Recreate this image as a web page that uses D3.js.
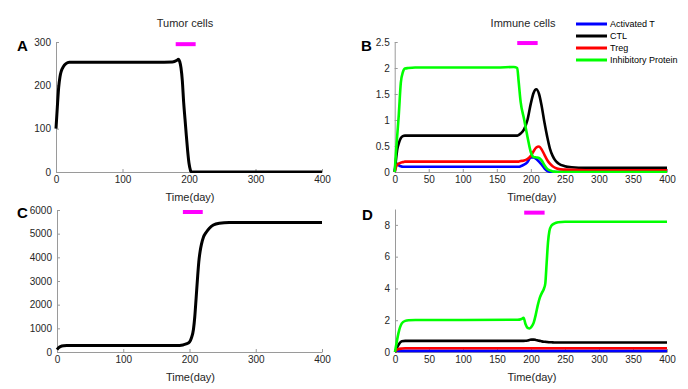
<!DOCTYPE html>
<html><head><meta charset="utf-8">
<script src="https://cdn.jsdelivr.net/npm/d3@7"></script>
<style>
html,body{margin:0;padding:0;background:#fff;}
svg{display:block;font-family:"Liberation Sans",Arial,sans-serif;}
</style></head>
<body><svg id="chart" width="688" height="389"></svg>
<script>
// ---------- DATA ----------
const seriesNames = ["Activated T", "CTL", "Treg", "Inhibitory Protein"];
const seriesColors = ["#0000ff", "#000000", "#ff0000", "#00ff00"];

// Panel A: tumor cells (dosing case 1)
const tA = [0, 2, 4, 6, 8, 11, 15, 20, 30, 60, 100, 150, 175, 182, 184, 186, 188, 190, 192, 194, 196, 198, 200, 202, 204, 250, 300, 400];
const tumorA = [100, 150, 195, 220, 233, 243, 250, 253, 253, 253, 253, 253, 254, 258, 260, 255, 240, 210, 160, 122, 84, 48, 20, 5, 0, 0, 0, 0];

// Panel B: immune cells (case 1)
const tB = [0, 2, 4, 6, 9, 12, 15, 20, 30, 60, 100, 150, 175, 180, 182, 185, 190, 195, 200, 204, 208, 212, 216, 220, 224, 228, 232, 236, 240, 250, 260, 280, 300, 350, 400];
const actTB = [0, 0.15, 0.16, 0.13, 0.11, 0.1, 0.1, 0.1, 0.1, 0.1, 0.1, 0.1, 0.1, 0.1, 0.1, 0.11, 0.14, 0.19, 0.28, 0.28, 0.25, 0.2, 0.14, 0.07, 0.02, 0.005, 0, 0, 0, 0, 0, 0, 0, 0, 0];
const ctlB = [0, 0.25, 0.45, 0.55, 0.65, 0.69, 0.7, 0.7, 0.7, 0.7, 0.7, 0.7, 0.7, 0.7, 0.71, 0.74, 0.82, 1.0, 1.32, 1.52, 1.59, 1.5, 1.26, 0.95, 0.68, 0.45, 0.31, 0.22, 0.17, 0.11, 0.09, 0.08, 0.08, 0.08, 0.08];
const tregB = [0, 0.1, 0.14, 0.16, 0.18, 0.19, 0.2, 0.2, 0.2, 0.2, 0.2, 0.2, 0.2, 0.2, 0.2, 0.21, 0.22, 0.25, 0.31, 0.4, 0.47, 0.49, 0.43, 0.33, 0.23, 0.16, 0.11, 0.08, 0.06, 0.045, 0.04, 0.035, 0.035, 0.035, 0.035];
const inhibB = [0, 0.4, 0.75, 1.1, 1.72, 1.92, 1.99, 2.0, 2.01, 2.01, 2.01, 2.01, 2.02, 2.0, 1.75, 1.35, 1.02, 0.68, 0.38, 0.29, 0.28, 0.27, 0.22, 0.13, 0.06, 0.03, 0.01, 0.005, 0, 0, 0, 0, 0, 0, 0];

// Panel C: tumor cells (case 2)
const tC = [0, 2, 5, 10, 15, 30, 100, 180, 190, 195, 200, 203, 206, 208, 210, 212, 214, 216, 218, 221, 225, 230, 236, 245, 260, 300, 400];
const tumorC = [100, 170, 230, 265, 270, 270, 270, 275, 300, 340, 420, 600, 960, 1500, 2280, 3080, 3800, 4250, 4550, 4850, 5050, 5230, 5366, 5440, 5470, 5475, 5475];

// Panel D: immune cells (case 2)
const tD = [0, 2, 5, 10, 15, 20, 30, 100, 180, 186, 189, 192, 195, 198, 201, 204, 207, 210, 213, 216, 219, 221, 223, 225, 227, 230, 234, 240, 250, 300, 400];
const actTD = [0, 0.08, 0.07, 0.07, 0.07, 0.07, 0.07, 0.07, 0.07, 0.07, 0.07, 0.07, 0.07, 0.07, 0.07, 0.07, 0.07, 0.07, 0.07, 0.07, 0.07, 0.07, 0.07, 0.07, 0.07, 0.07, 0.07, 0.07, 0.07, 0.07, 0.07];
const ctlD = [0, 0.2, 0.44, 0.68, 0.7, 0.7, 0.7, 0.7, 0.7, 0.7, 0.7, 0.71, 0.73, 0.76, 0.78, 0.78, 0.76, 0.73, 0.7, 0.67, 0.65, 0.64, 0.63, 0.62, 0.61, 0.61, 0.6, 0.6, 0.6, 0.6, 0.6];
const tregD = [0, 0.12, 0.18, 0.22, 0.24, 0.24, 0.24, 0.24, 0.24, 0.24, 0.24, 0.24, 0.24, 0.24, 0.24, 0.24, 0.24, 0.24, 0.24, 0.24, 0.24, 0.24, 0.24, 0.24, 0.24, 0.24, 0.24, 0.24, 0.24, 0.24, 0.24];
const inhibD = [0, 0.5, 1.17, 1.8, 1.96, 2.0, 2.01, 2.01, 2.03, 2.08, 2.15, 1.75, 1.52, 1.48, 1.6, 1.85, 2.35, 2.95, 3.42, 3.72, 3.98, 4.3, 5.6, 6.9, 7.6, 7.95, 8.08, 8.17, 8.2, 8.2, 8.2];

// Treatment window bars [start, end, level]
const doseA = [180, 210, 295];
const doseB = [180, 210, 2.48];
const doseC = [190, 220, 5915];
const doseD = [190, 220, 8.77];

const ticksA = [0, 100, 200, 300];
const ticksB = [0, 0.5, 1, 1.5, 2, 2.5];
const ticksC = [0, 1000, 2000, 3000, 4000, 5000, 6000];
const ticksD = [0, 2, 4, 6, 8];
const xTicksWide = [0, 100, 200, 300, 400];
const xTicksFine = [0, 50, 100, 150, 200, 250, 300, 350, 400];

// ---------- DRAW ----------
const svg = d3.select("#chart");
const AXIS_COL = "#9a9a9a", LABEL_COL = "#262626";

function panel(cfg) {
  const x = d3.scaleLinear().domain([0, 400]).range([cfg.x0, cfg.x1]);
  const y = d3.scaleLinear().domain(cfg.yDomain).range([cfg.y1, cfg.y0]);
  const g = svg.append("g");
  const id = "clip" + cfg.label;
  svg.append("defs").append("clipPath").attr("id", id).append("rect")
    .attr("x", cfg.x0 - 2).attr("y", cfg.y0 - 3).attr("width", cfg.x1 - cfg.x0 + 4).attr("height", cfg.y1 - cfg.y0 + 4);

  const xa = g.append("g").attr("transform", `translate(0,${cfg.y1})`)
    .call(d3.axisBottom(x).tickValues(cfg.xTicks).tickSizeInner(-3).tickSizeOuter(0).tickPadding(4).tickFormat(d => String(d)));
  const ya = g.append("g").attr("transform", `translate(${cfg.x0},0)`)
    .call(d3.axisLeft(y).tickValues(cfg.yTicks).tickSizeInner(-3).tickSizeOuter(0).tickPadding(5).tickFormat(d => String(d)));
  [xa, ya].forEach(a => {
    a.select(".domain").attr("stroke", AXIS_COL);
    a.selectAll(".tick line").attr("stroke", AXIS_COL);
    a.selectAll(".tick text").attr("fill", LABEL_COL).style("font-size", "10px").style("font-family", '"Liberation Sans",Arial,sans-serif');
  });

  const line = d3.line().x(d => x(d[0])).y(d => y(d[1])).curve(d3.curveMonotoneX);
  const lg = g.append("g").attr("clip-path", `url(#${id})`);
  cfg.series.forEach(s => {
    lg.append("path").datum(cfg.t.map((t, i) => [t, s.v[i]]))
      .attr("d", line).attr("fill", "none").attr("stroke", s.color)
      .attr("stroke-width", cfg.sw).attr("stroke-linejoin", "round").attr("stroke-linecap", "butt");
  });

  // dose bar
  g.append("line").attr("x1", x(cfg.dose[0])).attr("x2", x(cfg.dose[1]))
    .attr("y1", y(cfg.dose[2])).attr("y2", y(cfg.dose[2]))
    .attr("stroke", "#ff00ff").attr("stroke-width", 4);

  // axis label
  g.append("text").attr("x", (cfg.x0 + cfg.x1) / 2 + 1).attr("y", cfg.y1 + 29)
    .attr("text-anchor", "middle").attr("fill", LABEL_COL).style("font-size", "11px").text("Time(day)");
  // panel letter
  g.append("text").attr("x", cfg.lx).attr("y", cfg.ly).attr("fill", "#000")
    .style("font-size", "15px").style("font-weight", "bold").text(cfg.label);
}

const immune = (t, a, c, r, i) => ({ t, series: [
  { v: a, color: seriesColors[0] }, { v: c, color: seriesColors[1] },
  { v: r, color: seriesColors[2] }, { v: i, color: seriesColors[3] }] });

panel({ label: "A", lx: 17, ly: 51, x0: 56, x1: 322, y0: 42, y1: 172, yDomain: [0, 300], yTicks: ticksA, xTicks: xTicksWide,
  t: tA, series: [{ v: tumorA, color: "#000" }], dose: doseA, sw: 3 });
panel(Object.assign({ label: "B", lx: 361, ly: 51, x0: 394.7, x1: 667, y0: 42, y1: 172, yDomain: [0, 2.5], yTicks: ticksB, xTicks: xTicksFine,
  dose: doseB, sw: 2.6 }, immune(tB, actTB, ctlB, tregB, inhibB)));
panel({ label: "C", lx: 17, ly: 218, x0: 57, x1: 322, y0: 210, y1: 352, yDomain: [0, 6000], yTicks: ticksC, xTicks: xTicksWide,
  t: tC, series: [{ v: tumorC, color: "#000" }], dose: doseC, sw: 3 });
panel(Object.assign({ label: "D", lx: 362, ly: 220, x0: 395, x1: 667, y0: 209, y1: 352, yDomain: [0, 9], yTicks: ticksD, xTicks: xTicksFine,
  dose: doseD, sw: 2.6 }, immune(tD, actTD, ctlD, tregD, inhibD)));

// titles
svg.append("text").attr("x", 185).attr("y", 27).attr("text-anchor", "middle").attr("fill", LABEL_COL).style("font-size", "11px").text("Tumor cells");
svg.append("text").attr("x", 523).attr("y", 27).attr("text-anchor", "middle").attr("fill", LABEL_COL).style("font-size", "11px").text("Immune cells");

// legend
const leg = svg.append("g");
seriesNames.forEach((n, i) => {
  const yy = 24 + i * 12;
  leg.append("line").attr("x1", 576).attr("x2", 607).attr("y1", yy).attr("y2", yy)
    .attr("stroke", seriesColors[i]).attr("stroke-width", 3);
  leg.append("text").attr("x", 610).attr("y", yy + 3.3).attr("fill", "#000")
    .style("font-size", "9px").text(n);
});
</script></body></html>
